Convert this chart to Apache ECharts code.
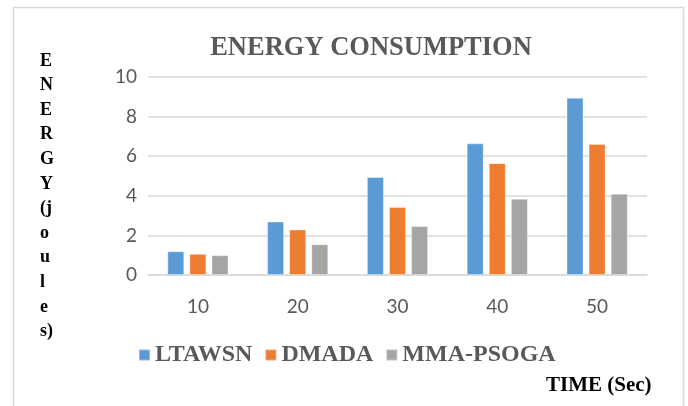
<!DOCTYPE html>
<html>
<head>
<meta charset="utf-8">
<script src="https://cdn.jsdelivr.net/npm/echarts@6/dist/echarts.min.js"></script>
<style>
  html, body { margin: 0; padding: 0; background: #ffffff; }
  #chart { width: 688px; height: 406px; }
</style>
</head>
<body>
<div id="chart"></div>
<script>
// Time points (seconds) on the category axis
const times = ['10', '20', '30', '40', '50'];

// Energy consumption (joules) per method
const ltawsn = [1.2, 2.7, 4.95, 6.65, 8.95];
const dmada = [1.07, 2.3, 3.43, 5.65, 6.62];
const mmaPsoga = [1.0, 1.55, 2.47, 3.85, 4.1];

const seriesNames = ['LTAWSN', 'DMADA', 'MMA-PSOGA'];
const seriesColors = ['#5B9BD5', '#ED7D31', '#A5A5A5'];

// Vertical axis title, one character group per line
const yTitleLines = ['E', 'N', 'E', 'R', 'G', 'Y', '(j', 'o', 'u', 'l', 'e', 's)'];

const serif = '"Liberation Serif", "Times New Roman", serif';
const sans = 'Lato, "Liberation Sans", sans-serif';

const chart = echarts.init(document.getElementById('chart'), null, { renderer: 'canvas' });

const makeBar = (name, data, color) => ({
  name: name,
  type: 'bar',
  data: data,
  barWidth: 17,
  barGap: '30%',
  itemStyle: { color: color, borderColor: 'rgba(255,255,255,0.35)', borderWidth: 1 }
});

const yTitleGraphics = yTitleLines.map((t, i) => ({
  type: 'text',
  left: 40,
  top: 52 + i * 24.6,
  style: { text: t, font: 'bold 18px ' + serif, fill: '#000000' }
}));

chart.setOption({
  backgroundColor: '#ffffff',
  animation: false,
  title: {
    text: 'ENERGY CONSUMPTION',
    left: 366,
    textAlign: 'center',
    top: 30,
    textStyle: { fontFamily: serif, fontWeight: 'bold', fontSize: 26.5, color: '#595959' }
  },
  legend: {
    data: seriesNames,
    left: 133,
    top: 338,
    icon: 'rect',
    itemWidth: 11,
    itemHeight: 11,
    itemGap: 12,
    textStyle: { fontFamily: serif, fontWeight: 'bold', fontSize: 24, color: '#595959' }
  },
  grid: { left: 148, right: 41, top: 77, bottom: 131 },
  xAxis: {
    type: 'category',
    data: times,
    axisLine: { lineStyle: { color: '#d9d9d9', width: 1.5 } },
    axisTick: { show: false },
    axisLabel: { fontFamily: sans, fontSize: 19, color: '#595959', margin: 22 }
  },
  yAxis: {
    type: 'value',
    min: 0,
    max: 10,
    interval: 2,
    axisLine: { show: false },
    axisTick: { show: false },
    splitLine: { lineStyle: { color: '#d9d9d9', width: 1.5 } },
    axisLabel: { fontFamily: sans, fontSize: 19, color: '#595959', margin: 11 }
  },
  series: [
    makeBar(seriesNames[0], ltawsn, seriesColors[0]),
    makeBar(seriesNames[1], dmada, seriesColors[1]),
    makeBar(seriesNames[2], mmaPsoga, seriesColors[2])
  ],
  graphic: [
    {
      type: 'rect',
      shape: { x: 13.5, y: 7.5, width: 670, height: 410 },
      style: { fill: null, stroke: '#d9d9d9', lineWidth: 1.5 },
      z: -1
    },
    {
      type: 'text',
      left: 236,
      top: -17.5,
      style: { text: 'Figure 4: Energy Consumption', font: '17px ' + serif, fill: '#000000' }
    },
    {
      type: 'text',
      left: 546,
      top: 375,
      style: { text: 'TIME (Sec)', font: 'bold 21px ' + serif, fill: '#000000' }
    }
  ].concat(yTitleGraphics)
});
</script>
</body>
</html>
